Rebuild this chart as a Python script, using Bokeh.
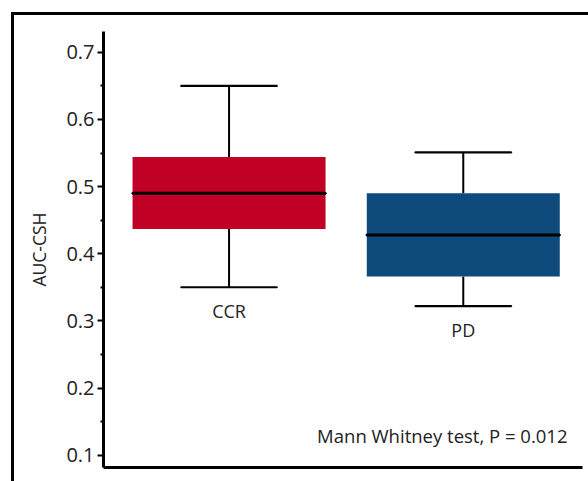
from bokeh.plotting import figure
from bokeh.models import (ColumnDataSource, FixedTicker, Label, Range1d, InlineStyleSheet)
from bokeh.core.properties import value
from bokeh.embed import file_html
from bokeh.resources import INLINE

# ---- data ----
categories = ["CCR", "PD"]
positions = [1, 2]
whisker_low = [0.350, 0.322]
q1 = [0.437, 0.366]
median = [0.490, 0.428]
q3 = [0.544, 0.490]
whisker_high = [0.650, 0.551]
colors = ["#C00025", "#0E4A7C"]
y_ticks = [0.1, 0.2, 0.3, 0.4, 0.5, 0.6, 0.7]
y_minor = [0.15, 0.25, 0.35, 0.45, 0.55, 0.65]
annotation_text = "Mann Whitney test, P = 0.012"
y_label = "AUC-CSH"

FONT = "Open Sans"
TXT = "#222222"

src = ColumnDataSource(dict(x=positions, cat=categories, lo=whisker_low, q1=q1,
                            med=median, q3=q3, hi=whisker_high, color=colors))

p = figure(width=588, height=481, output_backend="svg", toolbar_location=None,
           x_range=Range1d(0.464, 2.509), y_range=Range1d(0.0817, 0.731),
           min_border_left=103, min_border_right=6, min_border_top=31, min_border_bottom=14)

p.grid.visible = False
p.outline_line_color = None
p.background_fill_color = "white"
p.border_fill_color = "white"

# x axis: line only
p.xaxis.ticker = FixedTicker(ticks=[])
p.xaxis.major_tick_line_color = None
p.xaxis.minor_tick_line_color = None
p.xaxis.axis_line_width = 3
p.xaxis.axis_line_color = "black"

# y axis
p.yaxis.ticker = FixedTicker(ticks=y_ticks, minor_ticks=y_minor)
p.yaxis.axis_line_width = 3
p.yaxis.axis_line_color = "black"
p.yaxis.major_tick_line_width = 2
p.yaxis.major_tick_in = 0
p.yaxis.major_tick_out = 6
p.yaxis.minor_tick_line_width = 2
p.yaxis.minor_tick_in = 0
p.yaxis.minor_tick_out = 3
p.yaxis.major_label_text_font = FONT
p.yaxis.major_label_text_font_size = "20px"
p.yaxis.major_label_text_color = TXT
p.yaxis.major_label_standoff = 3
p.yaxis.axis_label = y_label
p.yaxis.axis_label_text_font = FONT
p.yaxis.axis_label_text_font_size = "17.5px"
p.yaxis.axis_label_text_font_style = "normal"
p.yaxis.axis_label_text_color = TXT
p.yaxis.axis_label_standoff = 12

# whiskers
p.segment(x0="x", y0="lo", x1="x", y1="q1", source=src, line_color="black", line_width=2)
p.segment(x0="x", y0="q3", x1="x", y1="hi", source=src, line_color="black", line_width=2)
cap_w = 0.41
p.rect(x="x", y="lo", width=cap_w, height=0.0001, source=src, fill_color=None,
       line_color="black", line_width=2)
p.rect(x="x", y="hi", width=cap_w, height=0.0001, source=src, fill_color=None,
       line_color="black", line_width=2)
# boxes
p.vbar(x="x", bottom="q1", top="q3", width=0.824, source=src, fill_color="color",
       line_color=None)
# median
p.rect(x="x", y="med", width=0.824, height=0.0001, source=src, fill_color=None,
       line_color="black", line_width=3)

# category labels below whiskers
p.text(x="x", y="lo", text="cat", source=src, y_offset=24, text_align="center",
       text_baseline="middle", text_font=value(FONT), text_font_size="18px",
       text_color=TXT)

# annotation
p.add_layout(Label(x=2.445, y=0.129, text=annotation_text, text_align="right",
                   text_baseline="middle", text_font=FONT, text_font_size="18.5px",
                   text_color=TXT))

# outer frame (cropped by the page edge)
p.stylesheets = [InlineStyleSheet(css="""
:host { position: relative; }
:host::after {
  content: ""; position: absolute; left: 11px; top: 12px;
  width: 700px; height: 700px; box-sizing: border-box;
  border-left: 3px solid black; border-top: 3px solid black;
  pointer-events: none;
}
""")]

open("out.html", "w").write(file_html(p, INLINE))
